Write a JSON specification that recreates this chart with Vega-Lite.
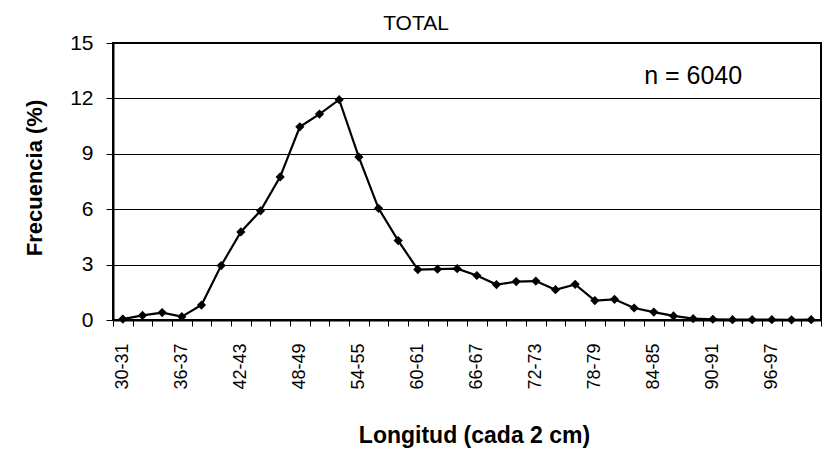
{
  "$schema": "https://vega.github.io/schema/vega-lite/v6.json",
  "width": 708,
  "height": 277,
  "autosize": {"type": "none"},
  "padding": {"left": 113, "top": 43, "right": 6, "bottom": 130},
  "background": "white",
  "config": {
    "font": "Liberation Sans",
    "view": {"stroke": "black", "strokeWidth": 2},
    "axis": {"labelColor": "black", "titleColor": "black", "domainColor": "black", "tickColor": "black", "gridColor": "black", "labelFont": "Liberation Sans", "titleFont": "Liberation Sans"}
  },
  "title": {
    "text": "TOTAL",
    "font": "Liberation Sans",
    "fontSize": 21,
    "fontWeight": "normal",
    "color": "black",
    "anchor": "middle",
    "dx": -51,
    "offset": -23,
    "baseline": "bottom"
  },
  "data": {
    "values": [
      {"longitud": "30-31", "frecuencia": 0.05},
      {"longitud": "32-33", "frecuencia": 0.25},
      {"longitud": "34-35", "frecuencia": 0.4},
      {"longitud": "36-37", "frecuencia": 0.18},
      {"longitud": "38-39", "frecuencia": 0.81},
      {"longitud": "40-41", "frecuencia": 2.95},
      {"longitud": "42-43", "frecuencia": 4.77},
      {"longitud": "44-45", "frecuencia": 5.91},
      {"longitud": "46-47", "frecuencia": 7.75},
      {"longitud": "48-49", "frecuencia": 10.46},
      {"longitud": "50-51", "frecuencia": 11.15},
      {"longitud": "52-53", "frecuencia": 11.93},
      {"longitud": "54-55", "frecuencia": 8.82},
      {"longitud": "56-57", "frecuencia": 6.05},
      {"longitud": "58-59", "frecuencia": 4.3},
      {"longitud": "60-61", "frecuencia": 2.73},
      {"longitud": "62-63", "frecuencia": 2.75},
      {"longitud": "64-65", "frecuencia": 2.78},
      {"longitud": "66-67", "frecuencia": 2.41},
      {"longitud": "68-69", "frecuencia": 1.92},
      {"longitud": "70-71", "frecuencia": 2.08},
      {"longitud": "72-73", "frecuencia": 2.11},
      {"longitud": "74-75", "frecuencia": 1.64},
      {"longitud": "76-77", "frecuencia": 1.93},
      {"longitud": "78-79", "frecuencia": 1.05},
      {"longitud": "80-81", "frecuencia": 1.12},
      {"longitud": "82-83", "frecuencia": 0.65},
      {"longitud": "84-85", "frecuencia": 0.43},
      {"longitud": "86-87", "frecuencia": 0.22},
      {"longitud": "88-89", "frecuencia": 0.07},
      {"longitud": "90-91", "frecuencia": 0.04},
      {"longitud": "92-93", "frecuencia": 0.02},
      {"longitud": "94-95", "frecuencia": 0.02},
      {"longitud": "96-97", "frecuencia": 0.02},
      {"longitud": "98-99", "frecuencia": 0.01},
      {"longitud": "100-101", "frecuencia": 0.02}
    ]
  },
  "encoding": {
    "x": {
      "field": "longitud",
      "type": "ordinal",
      "sort": null,
      "scale": {"type": "band", "paddingInner": 0, "paddingOuter": 0},
      "axis": {
        "title": "Longitud (cada 2 cm)",
        "titleFontSize": 23,
        "titleFontWeight": "bold",
        "titleX": 361,
        "titleY": 122,
        "titleAlign": "center",
        "titleBaseline": "alphabetic",
        "labelAngle": -90,
        "labelFontSize": 18,
        "labelPadding": 17,
        "labelExpr": "(toNumber(split(datum.value, '-')[0]) - 30) % 6 == 0 ? datum.value : ''",
        "tickBand": "extent",
        "tickSize": 6,
        "tickWidth": 1,
        "domainWidth": 2,
        "grid": false
      }
    },
    "y": {
      "field": "frecuencia",
      "type": "quantitative",
      "scale": {"domain": [0, 15], "nice": false, "zero": true},
      "axis": {
        "title": "Frecuencia (%)",
        "titleFontSize": 22,
        "titleFontWeight": "bold",
        "titleAngle": -90,
        "titleX": -72,
        "titleY": 134.5,
        "titleAlign": "center",
        "titleBaseline": "alphabetic",
        "values": [0, 3, 6, 9, 12, 15],
        "labelFontSize": 21,
        "labelPadding": 13,
        "tickSize": 7,
        "tickWidth": 1,
        "domainWidth": 2,
        "grid": true,
        "gridWidth": 1,
        "gridOpacity": 1
      }
    }
  },
  "layer": [
    {
      "mark": {"type": "line", "color": "black", "strokeWidth": 2.2}
    },
    {
      "mark": {"type": "point", "shape": "diamond", "filled": true, "color": "black", "opacity": 1, "size": 85}
    },
    {
      "transform": [{"filter": "datum.longitud == '88-89'"}],
      "mark": {"type": "text", "text": "n = 6040", "fontSize": 25, "font": "Liberation Sans", "color": "black", "align": "center", "baseline": "alphabetic"},
      "encoding": {
        "y": {"datum": 12.8, "type": "quantitative"}
      }
    }
  ]
}
